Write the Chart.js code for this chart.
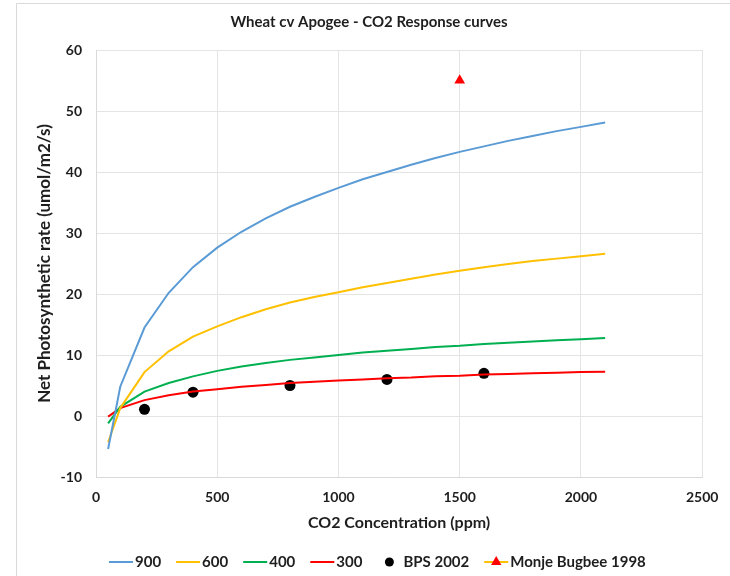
<!DOCTYPE html>
<html>
<head>
<meta charset="utf-8">
<script src="https://cdn.jsdelivr.net/npm/chart.js@4/dist/chart.umd.min.js"></script>
<style>
  html, body { margin: 0; padding: 0; background: #ffffff; }
  #wrap { width: 730px; height: 576px; }
</style>
</head>
<body>
<div id="wrap"><canvas id="c" width="730" height="576"></canvas></div>
<script>
// ---- Data ----
const co2 = [50, 100, 200, 300, 400, 500, 600, 700, 800, 900, 1000, 1100, 1200, 1300, 1400, 1500, 1600, 1700, 1800, 1900, 2000, 2100];
const rate900 = [-5.4, 4.8, 14.5, 20.2, 24.4, 27.6, 30.2, 32.4, 34.3, 35.9, 37.4, 38.8, 40.0, 41.2, 42.3, 43.3, 44.2, 45.1, 45.9, 46.7, 47.4, 48.1];
const rate600 = [-4.3, 1.3, 7.2, 10.6, 13.0, 14.7, 16.2, 17.5, 18.6, 19.5, 20.3, 21.1, 21.8, 22.5, 23.2, 23.8, 24.4, 24.9, 25.4, 25.8, 26.2, 26.6];
const rate400 = [-1.2, 1.5, 4.0, 5.4, 6.5, 7.4, 8.1, 8.7, 9.2, 9.6, 10.0, 10.4, 10.7, 11.0, 11.3, 11.5, 11.8, 12.0, 12.2, 12.4, 12.6, 12.8];
const rate300 = [-0.1, 1.3, 2.6, 3.4, 4.0, 4.4, 4.8, 5.1, 5.4, 5.6, 5.8, 6.0, 6.2, 6.3, 6.5, 6.6, 6.8, 6.9, 7.0, 7.1, 7.2, 7.25];
const bpsCo2 = [200, 400, 800, 1200, 1600];
const bpsRate = [1.1, 3.9, 5.0, 6.0, 7.0];
const monjeCo2 = [1500];
const monjeRate = [55.0];
const seriesNames = ['900', '600', '400', '300', 'BPS 2002', 'Monje Bugbee 1998'];
const xTicks = [0, 500, 1000, 1500, 2000, 2500];
const yTicks = [-10, 0, 10, 20, 30, 40, 50, 60];

const FONT = 'Lato, "Open Sans", "Liberation Sans", sans-serif';
const TXT = '#1e1e1e';

function pts(xs, ys) { return xs.map((x, i) => ({ x: x, y: ys[i] })); }

function lineDs(label, ys, color) {
  return {
    label: label, data: pts(co2, ys), showLine: true,
    borderColor: color, backgroundColor: color, borderWidth: 2,
    pointRadius: 0, pointHoverRadius: 0, tension: 0, legendKind: 'line'
  };
}

const datasets = [
  lineDs(seriesNames[0], rate900, '#5B9BD5'),
  lineDs(seriesNames[1], rate600, '#FFC000'),
  lineDs(seriesNames[2], rate400, '#00B050'),
  lineDs(seriesNames[3], rate300, '#FF0000'),
  {
    label: seriesNames[4], data: pts(bpsCo2, bpsRate), showLine: false,
    pointStyle: 'circle', pointRadius: 5.5, backgroundColor: '#000000', borderColor: '#000000',
    borderWidth: 0, legendKind: 'dot'
  },
  {
    label: seriesNames[5], data: pts(monjeCo2, monjeRate), showLine: false,
    pointStyle: 'triangle', pointRadius: 6.2, backgroundColor: '#FF0000', borderColor: '#FF0000',
    borderWidth: 0, lineColor: '#FFC000', legendKind: 'lineTri'
  }
];

// Frame around the chart area (Excel-style chart border)
const framePlugin = {
  id: 'frame',
  beforeDraw(chart) {
    const ctx = chart.ctx;
    ctx.save();
    ctx.fillStyle = '#ffffff';
    ctx.fillRect(0, 0, chart.width, chart.height);
    ctx.strokeStyle = '#d9d9d9';
    ctx.lineWidth = 1;
    ctx.beginPath();
    ctx.moveTo(16.5, chart.height);
    ctx.lineTo(16.5, 3.5);
    ctx.lineTo(chart.width, 3.5);
    ctx.stroke();
    ctx.restore();
  }
};

// Bottom legend drawn like Excel's (line / marker / line+marker symbols)
const legendPlugin = {
  id: 'xlLegend',
  afterDraw(chart) {
    const ctx = chart.ctx;
    const y = 562;
    let x = 109;
    ctx.save();
    ctx.font = 'bold 15px ' + FONT;
    ctx.textBaseline = 'middle';
    ctx.textAlign = 'left';
    chart.data.datasets.forEach(ds => {
      const symW = 24;
      if (ds.legendKind === 'line' || ds.legendKind === 'lineTri') {
        ctx.strokeStyle = ds.legendKind === 'line' ? ds.borderColor : ds.lineColor;
        ctx.lineWidth = 2;
        ctx.beginPath();
        ctx.moveTo(x, y);
        ctx.lineTo(x + symW, y);
        ctx.stroke();
      }
      if (ds.legendKind === 'dot' || ds.legendKind === 'lineTri') {
        ctx.fillStyle = ds.backgroundColor;
        ctx.beginPath();
        if (ds.pointStyle === 'circle') {
          ctx.arc(x + symW / 2, y, 4.5, 0, Math.PI * 2);
        } else {
          const r = 6;
          ctx.moveTo(x + symW / 2, y - r);
          ctx.lineTo(x + symW / 2 + r * 0.866, y + r * 0.5);
          ctx.lineTo(x + symW / 2 - r * 0.866, y + r * 0.5);
          ctx.closePath();
        }
        ctx.fill();
      }
      ctx.fillStyle = TXT;
      ctx.fillText(ds.label, x + symW + 2, y);
      x += symW + 2 + ctx.measureText(ds.label).width + 15;
    });
    ctx.restore();
  }
};

new Chart(document.getElementById('c'), {
  type: 'scatter',
  data: { datasets: datasets },
  options: {
    responsive: false,
    animation: false,
    devicePixelRatio: 1,
    layout: { padding: { left: 34, right: 26, top: 0, bottom: 29 } },
    plugins: {
      legend: { display: false },
      tooltip: { enabled: false },
      title: {
        display: true,
        text: 'Wheat cv Apogee - CO2 Response curves',
        color: TXT,
        font: { family: FONT, size: 15, weight: 'bold' },
        padding: { top: 13, bottom: 19 }
      }
    },
    scales: {
      x: {
        type: 'linear', min: 0, max: 2500,
        afterBuildTicks(scale) { scale.ticks = xTicks.map(v => ({ value: v })); },
        afterFit(scale) { scale.height = 70; },
        grid: { color: '#e4e4e4', lineWidth: 1, drawTicks: false },
        border: { color: '#d9d9d9' },
        ticks: {
          color: TXT, font: { family: FONT, size: 14, weight: 'bold' }, padding: 11.6, maxRotation: 0,
          callback: v => String(v)
        },
        title: {
          display: true, text: 'CO2 Concentration (ppm)', color: TXT,
          font: { family: FONT, size: 16, weight: 'bold' }, padding: { top: 0, bottom: 14.4 }
        }
      },
      y: {
        type: 'linear', min: -10, max: 60,
        afterBuildTicks(scale) { scale.ticks = yTicks.map(v => ({ value: v })); },
        afterFit(scale) { scale.width = 62; },
        grid: { color: '#e4e4e4', lineWidth: 1, drawTicks: false },
        border: { color: '#d9d9d9' },
        ticks: {
          color: TXT, font: { family: FONT, size: 14, weight: 'bold' }, padding: 14,
          callback: v => String(v)
        },
        title: {
          display: true, text: 'Net Photosynthetic rate (umol/m2/s)', color: TXT,
          font: { family: FONT, size: 17, weight: 'bold' }, padding: { top: 0.8, bottom: 0 }
        }
      }
    }
  },
  plugins: [framePlugin, legendPlugin]
});
</script>
</body>
</html>
